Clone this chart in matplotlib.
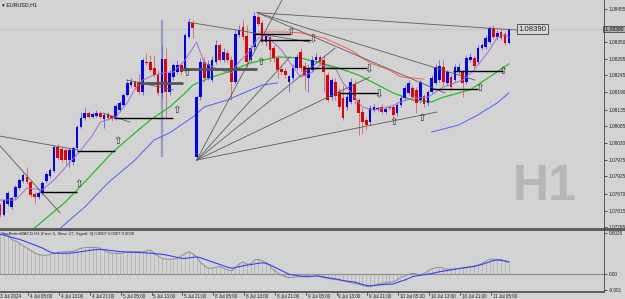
import numpy as np
import matplotlib
matplotlib.use("Agg")
import matplotlib.pyplot as plt
from matplotlib.patches import Rectangle
from matplotlib.lines import Line2D
from matplotlib.transforms import blended_transform_factory

plt.rcParams['font.family'] = ['Liberation Sans', 'DejaVu Sans']

# EURUSD H1, bar 0 = 3 Jul 2024 21:00, one bar per hour (weekend skipped)
opens = [1.07834, 1.07803, 1.07837, 1.07828, 1.07859, 1.07888, 1.07910, 1.07923, 1.07907, 1.07869,
         1.07859, 1.07872, 1.07910, 1.07926, 1.07942, 1.08017, 1.08011, 1.08008, 1.07976, 1.07970,
         1.08014, 1.08081, 1.08109, 1.08125, 1.08112, 1.08115, 1.08125, 1.08106, 1.08122, 1.08115,
         1.08106, 1.08134, 1.08150, 1.08182, 1.08213, 1.08223, 1.08220, 1.08191, 1.08286, 1.08286,
         1.08267, 1.08245, 1.08188, 1.08296, 1.08191, 1.08239, 1.08254, 1.08277, 1.08261, 1.08365,
         1.08409, 1.07986, 1.08175, 1.08286, 1.08236, 1.08229, 1.08286, 1.08340, 1.08292, 1.08315,
         1.08292, 1.08223, 1.08371, 1.08397, 1.08368, 1.08292, 1.08333, 1.08428, 1.08409, 1.08349,
         1.08365, 1.08330, 1.08299, 1.08264, 1.08258, 1.08223, 1.08236, 1.08267, 1.08318, 1.08273,
         1.08236, 1.08261, 1.08292, 1.08302, 1.08292, 1.08245, 1.08175, 1.08223, 1.08191, 1.08172,
         1.08144, 1.08160, 1.08217, 1.08166, 1.08128, 1.08103, 1.08096, 1.08134, 1.08138, 1.08144,
         1.08128, 1.08144, 1.08144, 1.08125, 1.08150, 1.08172, 1.08188, 1.08204, 1.08198, 1.08166,
         1.08179, 1.08157, 1.08191, 1.08220, 1.08229, 1.08270, 1.08220, 1.08239, 1.08229, 1.08254,
         1.08254, 1.08223, 1.08292, 1.08299, 1.08286, 1.08330, 1.08333, 1.08349, 1.08394, 1.08365,
         1.08381, 1.08375, 1.08346]
closes = [1.07803, 1.07850, 1.07872, 1.07856, 1.07891, 1.07913, 1.07929, 1.07907, 1.07866, 1.07859,
          1.07872, 1.07904, 1.07932, 1.07945, 1.08017, 1.07983, 1.07976, 1.07976, 1.08008, 1.08014,
          1.08081, 1.08109, 1.08125, 1.08112, 1.08122, 1.08125, 1.08112, 1.08119, 1.08109, 1.08106,
          1.08147, 1.08157, 1.08182, 1.08220, 1.08223, 1.08207, 1.08191, 1.08292, 1.08283, 1.08261,
          1.08245, 1.08188, 1.08296, 1.08191, 1.08251, 1.08277, 1.08277, 1.08254, 1.08371, 1.08412,
          1.08394, 1.08175, 1.08286, 1.08236, 1.08280, 1.08292, 1.08340, 1.08292, 1.08318, 1.08292,
          1.08223, 1.08375, 1.08387, 1.08365, 1.08286, 1.08330, 1.08431, 1.08406, 1.08349, 1.08368,
          1.08324, 1.08299, 1.08261, 1.08254, 1.08245, 1.08242, 1.08267, 1.08302, 1.08267, 1.08242,
          1.08267, 1.08292, 1.08302, 1.08286, 1.08254, 1.08166, 1.08229, 1.08179, 1.08144, 1.08109,
          1.08175, 1.08223, 1.08166, 1.08125, 1.08096, 1.08087, 1.08141, 1.08144, 1.08141, 1.08128,
          1.08138, 1.08141, 1.08119, 1.08150, 1.08172, 1.08204, 1.08220, 1.08175, 1.08157, 1.08223,
          1.08153, 1.08191, 1.08236, 1.08270, 1.08273, 1.08223, 1.08254, 1.08207, 1.08270, 1.08270,
          1.08220, 1.08299, 1.08302, 1.08273, 1.08330, 1.08340, 1.08362, 1.08394, 1.08365, 1.08378,
          1.08362, 1.08346, 1.08390]
highs = [1.07841, 1.07853, 1.07878, 1.07863, 1.07897, 1.07920, 1.07935, 1.07954, 1.07913, 1.07875,
         1.07878, 1.07910, 1.07938, 1.07951, 1.08024, 1.08027, 1.08021, 1.08014, 1.08014, 1.08021,
         1.08087, 1.08128, 1.08141, 1.08131, 1.08128, 1.08134, 1.08131, 1.08125, 1.08128, 1.08119,
         1.08153, 1.08163, 1.08188, 1.08232, 1.08236, 1.08229, 1.08248, 1.08299, 1.08315, 1.08308,
         1.08308, 1.08261, 1.08340, 1.08330, 1.08261, 1.08283, 1.08292, 1.08286, 1.08378, 1.08425,
         1.08419, 1.08182, 1.08299, 1.08302, 1.08292, 1.08305, 1.08356, 1.08346, 1.08330, 1.08324,
         1.08305, 1.08387, 1.08403, 1.08419, 1.08403, 1.08340, 1.08444, 1.08441, 1.08419, 1.08378,
         1.08375, 1.08340, 1.08308, 1.08273, 1.08267, 1.08245, 1.08280, 1.08311, 1.08330, 1.08286,
         1.08280, 1.08305, 1.08315, 1.08308, 1.08308, 1.08254, 1.08236, 1.08236, 1.08204, 1.08213,
         1.08188, 1.08236, 1.08229, 1.08172, 1.08141, 1.08112, 1.08150, 1.08153, 1.08147, 1.08153,
         1.08147, 1.08147, 1.08150, 1.08160, 1.08182, 1.08213, 1.08229, 1.08213, 1.08207, 1.08229,
         1.08185, 1.08198, 1.08245, 1.08280, 1.08292, 1.08292, 1.08261, 1.08248, 1.08280, 1.08283,
         1.08261, 1.08308, 1.08315, 1.08308, 1.08340, 1.08346, 1.08371, 1.08400, 1.08403, 1.08387,
         1.08390, 1.08384, 1.08394]
lows = [1.07796, 1.07799, 1.07831, 1.07822, 1.07853, 1.07882, 1.07904, 1.07901, 1.07859, 1.07841,
        1.07853, 1.07866, 1.07904, 1.07920, 1.07938, 1.07976, 1.07970, 1.07961, 1.07954, 1.07961,
        1.08008, 1.08078, 1.08103, 1.08109, 1.08109, 1.08112, 1.08109, 1.08078, 1.08103, 1.08100,
        1.08103, 1.08128, 1.08147, 1.08179, 1.08207, 1.08201, 1.08185, 1.08182, 1.08277, 1.08254,
        1.08239, 1.08182, 1.08172, 1.08109, 1.08182, 1.08229, 1.08248, 1.08245, 1.08254, 1.08362,
        1.08362, 1.07976, 1.08166, 1.08223, 1.08229, 1.08223, 1.08280, 1.08286, 1.08286, 1.08283,
        1.08166, 1.08217, 1.08365, 1.08356, 1.08270, 1.08286, 1.08324, 1.08400, 1.08343, 1.08337,
        1.08286, 1.08286, 1.08236, 1.08245, 1.08236, 1.08191, 1.08229, 1.08261, 1.08254, 1.08198,
        1.08191, 1.08254, 1.08286, 1.08277, 1.08191, 1.08160, 1.08166, 1.08166, 1.08134, 1.08103,
        1.08134, 1.08153, 1.08153, 1.08055, 1.08059, 1.08071, 1.08087, 1.08128, 1.08131, 1.08122,
        1.08122, 1.08134, 1.08109, 1.08115, 1.08144, 1.08166, 1.08182, 1.08169, 1.08125, 1.08157,
        1.08144, 1.08147, 1.08185, 1.08213, 1.08223, 1.08213, 1.08213, 1.08201, 1.08223, 1.08248,
        1.08175, 1.08217, 1.08286, 1.08267, 1.08280, 1.08324, 1.08327, 1.08343, 1.08359, 1.08356,
        1.08356, 1.08340, 1.08343]

# moving averages (bar index, price)
fast_ma_bars = [0, 4, 7, 11, 14, 18, 21, 24, 26, 30, 33, 35, 37, 40, 43, 45, 48, 51, 53, 57, 60, 62, 65,
                67, 69, 73, 76, 78, 81, 83, 87, 89, 92, 94, 97, 101, 104, 107, 111, 115, 120, 123, 127,
                129, 131, 132]
fast_ma = [1.07850, 1.07850, 1.07888, 1.07882, 1.07913, 1.07967, 1.08008, 1.08055, 1.08096, 1.08112,
           1.08157, 1.08201, 1.08229, 1.08245, 1.08254, 1.08254, 1.08292, 1.08349, 1.08283, 1.08261,
           1.08251, 1.08286, 1.08324, 1.08362, 1.08371, 1.08324, 1.08270, 1.08239, 1.08254, 1.08277,
           1.08267, 1.08220, 1.08175, 1.08144, 1.08134, 1.08144, 1.08160, 1.08172, 1.08175, 1.08207,
           1.08229, 1.08261, 1.08324, 1.08365, 1.08371, 1.08365]
mid_ma_bars = [7, 9, 17, 23, 29, 35, 39, 44, 48, 50, 55, 59, 65, 72, 78, 87, 93, 97, 102, 107, 112, 115,
               122, 127, 132]
mid_ma = [1.07739, 1.07762, 1.07844, 1.07920, 1.07999, 1.08062, 1.08103, 1.08144, 1.08188, 1.08213,
          1.08239, 1.08254, 1.08283, 1.08302, 1.08299, 1.08270, 1.08245, 1.08220, 1.08188, 1.08166,
          1.08160, 1.08175, 1.08198, 1.08239, 1.08280]
slow_ma_bars = [13, 16, 22, 28, 35, 40, 44, 50, 53, 59, 62, 68, 72, 73, 112, 119, 124, 129, 132]
slow_ma = [1.07724, 1.07765, 1.07828, 1.07904, 1.07976, 1.08040, 1.08062, 1.08112, 1.08144, 1.08166,
           1.08182, 1.08213, 1.08220, np.nan, 1.08065, 1.08087, 1.08119, 1.08157, 1.08188]
red_ma_bars = [67, 74, 78, 84, 87, 91, 96, 101, 104, 110]
red_ma = [1.08381, 1.08381, 1.08378, 1.08362, 1.08346, 1.08324, 1.08283, 1.08261, 1.08239, 1.08232]

# MACD (fast 5, slow 27, signal 9), in units of 0.0001
macd_e4 = [26.2, 25.8, 24.5, 22, 21, 19.5, 18, 16.5, 15, 13.5, 12.5,
           12, 12, 12.5, 13.2, 13.8, 14.2, 14.2, 14.2, 14.5, 15.5,
           16.4, 16.8, 17, 17, 16.8, 16.4, 15, 13.8, 13.2, 13.2,
           13.2, 13.5, 14, 14.2, 14.2, 14.2, 14.2, 14.8, 15.3, 13.5,
           11.5, 10, 9.6, 9.4, 9.6, 10, 11.5, 13, 14.2, 13,
           11, 7.5, 5.5, 3.8, 3.8, 4.5, 4.8, 3.8, 2.8, 2.1,
           4, 6.5, 7.9, 6.5, 6.5, 9, 9.4, 8.5, 7.3, 5,
           2.7, 1, -0.5, -1.5, -2.1, -2, -1.8, -1.5, -1, -0.5,
           0, -0.5, -1.5, -2.2, -2.5, -3, -3.3, -3.6, -4.2, -4.8,
           -5.3, -5.7, -6.3, -7, -7.6, -7.8, -7, -6.3, -5.7, -5.3,
           -5, -4.7, -3.5, -2, -1.1, 0, 0.6, 0.2, -0.4, 0.5,
           2, 3.3, 4.2, 4.4, 3.8, 3.2, 3.1, 3.4, 3.7, 3.8,
           4.3, 4.8, 5.4, 5.9, 6.8, 8.2, 9.4, 9.5, 9.3, 9.1,
           8.5, 7.3]
signal_e4 = [25.2, 24.7, 24, 23.3, 22.6, 22, 21.2, 20.3, 19.4, 18.4, 17.5,
             16.5, 15.3, 14, 13.3, 13.2, 13.2, 13.2, 13.3, 13.6, 13.9,
             14.2, 14.6, 15, 15.3, 15.5, 15.7, 15.5, 15.2, 14.9, 14.6,
             14.3, 14.2, 14, 13.9, 13.8, 13.7, 13.6, 13.5, 13.3, 13,
             12.8, 12.6, 12.2, 11.7, 11.2, 10.6, 10.1, 10, 10.3, 10.6,
             11, 10.4, 9.5, 8.7, 7.9, 7, 6.2, 5.3, 4.5, 3.8,
             4.2, 4.8, 5.3, 5.8, 6.1, 6.5, 6.9, 7.2, 7, 6,
             4.8, 3.6, 2.4, 1.2, 0, -0.4, -0.8, -1.2, -1.5, -1.5,
             -1.3, -1.1, -1.2, -1.7, -2.2, -2.5, -2.9, -3.4, -3.9, -4.3,
             -4.6, -4.9, -5.6, -6.3, -7, -7.2, -7.1, -6.8, -6.5, -6.3,
             -6.2, -6.1, -5.2, -4.3, -3.6, -2.6, -1.5, -1, -0.6, -0.3,
             0.1, 0.5, 1, 1.6, 2, 2.4, 2.8, 3.2, 3.6, 4,
             4.3, 4.6, 4.9, 5.5, 6.2, 7, 7.8, 8.6, 9, 8.8,
             8.3, 7.9]

# time axis labels (bar index, text)
time_ticks = [8, 16, 24, 32, 40, 48, 56, 64, 72, 80, 88, 96, 104, 112, 120, 128]
time_labels = ['4 Jul 05:00', '4 Jul 13:00', '4 Jul 21:00', '5 Jul 05:00', '5 Jul 13:00', '5 Jul 21:00',
               '8 Jul 05:00', '8 Jul 13:00', '8 Jul 21:00', '9 Jul 05:00', '9 Jul 13:00', '9 Jul 21:00',
               '10 Jul 05:00', '10 Jul 13:00', '10 Jul 21:00', '11 Jul 05:00']
price_ticks = [1.07765, 1.07815, 1.07870, 1.07925, 1.07975, 1.08030, 1.08085, 1.08135, 1.08190,
               1.08245, 1.08295, 1.08350, 1.08455]

# drawn objects: trend lines ((bar, price), (bar, price))
trend_lines = [((0, 1.08052), (20.2, 1.08008)), ((0, 1.08021), (15.6, 1.07809)),
               ((26.7, 1.08125), (33.7, 1.08096)), ((32.9, 1.08229), (44.9, 1.08198)),
               ((51, 1.07976), (75.2, 1.08529)), ((51, 1.07976), (75.2, 1.08302)),
               ((51, 1.07976), (86.9, 1.08330)), ((51, 1.07976), (96.0, 1.08239)),
               ((51, 1.07976), (113.4, 1.08128)),
               ((66.7, 1.08442), (134.1, 1.08387)), ((66.7, 1.08442), (123.2, 1.08229)),
               ((66.7, 1.08442), (115.4, 1.08188)), ((48.8, 1.08412), (80.4, 1.08349))]
# horizontal levels (price, from bar, to bar, heavy)
levels = [(1.07875, 10.4, 20.0, False), (1.08005, 20.0, 29.8, False), (1.08109, 29.8, 44.9, False),
          (1.08220, 35.5, 47.5, True), (1.08264, 46.7, 66.7, True), (1.08375, 65.6, 75.2, False),
          (1.08356, 67.4, 80.4, False), (1.08267, 78.6, 95.2, False), (1.08188, 88.2, 98.0, False),
          (1.08201, 111.5, 124.0, False), (1.08258, 117.5, 130.5, False)]
# arrow signals (bar, price, up?)
arrows = [(20.5, 1.07901, True), (30.6, 1.08036, True), (45.7, 1.08134, True), (48.5, 1.08251, True),
          (67.7, 1.08286, True), (75.5, 1.08381, True), (81.2, 1.08359, False), (95.5, 1.08264, False),
          (98.3, 1.08185, False), (102.2, 1.08096, True), (109.5, 1.08109, True), (124.3, 1.08204, True),
          (130.5, 1.08258, True)]

BG = '#d3d3d3'
W, H = 625, 299


def box(x0, y0, x1, y1):
    return [x0 / W, 1 - y1 / H, (x1 - x0) / W, (y1 - y0) / H]


fig = plt.figure(figsize=(6.25, 2.99), dpi=100)
fig.patch.set_facecolor(BG)
ax = fig.add_axes(box(0, 0, 604, 227.5))
mx = fig.add_axes(box(0, 230.5, 604, 291.5), sharex=ax)
for a in (ax, mx):
    a.set_facecolor(BG)
    for s in a.spines.values():
        s.set_visible(False)
    a.yaxis.tick_right()
    a.tick_params(axis='y', direction='out', length=2, width=0.5, colors='#202020',
                  labelsize=3.4, pad=1.5)
    a.tick_params(axis='x', bottom=False, labelbottom=False)

bars = np.arange(len(closes))
o = np.array(opens)
c = np.array(closes)
up = c >= o

# watermark
ax.text(544.5 / W, 1 - 187 / H, 'H1', transform=fig.transFigure, ha='center', va='center',
        fontsize=36, fontweight='bold', color='#b6b6b6', zorder=0)

# bid line
ax.axhline(closes[-1], color='#c4c4c4', lw=0.8, zorder=1)

# vertical line object
ax.vlines(41.9, 1.07986, 1.08419, color='#9a9ac0', lw=1.6, zorder=2)

# moving averages
ax.plot(slow_ma_bars, slow_ma, color='#5a5aff', lw=0.7, zorder=3)
ax.plot(mid_ma_bars, mid_ma, color='#22c022', lw=0.9, zorder=3)
ax.plot(red_ma_bars, red_ma, color='#ff5a5a', lw=0.7, zorder=3)
ax.plot(fast_ma_bars, fast_ma, color='#9c70d0', lw=0.7, zorder=5)

# candles
wick_col = np.where(up, '#6464d2', '#d26464')
body_col = np.where(up, '#0000ff', '#e80000')
ax.vlines(bars, lows, highs, colors=wick_col, lw=0.6, zorder=4)
heights = np.maximum(np.abs(c - o), 0.00002)
ax.bar(bars, heights, bottom=np.minimum(o, c), width=0.7, color=body_col, lw=0, zorder=4)

# trend lines and levels
for (x0, y0), (x1, y1) in trend_lines:
    ax.plot([x0, x1], [y0, y1], color='#5c5c5c', lw=0.6, zorder=6)
for price, x0, x1, heavy in levels:
    ax.plot([x0, x1], [price, price], color='#555555' if heavy else '#000000',
            lw=2.0 if heavy else 1.0, zorder=6, solid_capstyle='butt')
for x, y, is_up in arrows:
    ax.text(x, y, '\u21e7' if is_up else '\u21e9', ha='center', va='center', fontsize=7.5,
            color='#303030', family='DejaVu Sans', zorder=7)

# price label object
ax.text(138.1, 1.08390, '1.08390', ha='center', va='center', fontsize=5.6, color='#202020', zorder=8,
        bbox=dict(boxstyle='square,pad=0.2', fc='#d8d8d8', ec='#404040', lw=0.6))

ax.text(0.004, 0.99, '\u25be EURUSD,H1', transform=ax.transAxes, ha='left', va='top',
        fontsize=3.9, color='#101010')

ax.set_xlim(0, 604 / 3.855)
ax.set_ylim(1.08482 - 0.0000316 * 227.5, 1.08482)
ax.set_yticks(price_ticks)
ax.set_yticklabels(['%.5f' % p for p in price_ticks])
ax.text(1.0, closes[-1], ' 1.08390 ', transform=blended_transform_factory(ax.transAxes, ax.transData),
        ha='left', va='center', fontsize=3.6, color='#000000', zorder=9,
        bbox=dict(boxstyle='square,pad=0.15', fc='#b0b0b0', ec='#303030', lw=0.5), clip_on=False)

# MACD panel
macd = np.array(macd_e4) * 1e-4
signal = np.array(signal_e4) * 1e-4
mx.axhline(0, color='#8a8a8a', lw=0.8, zorder=1)
mx.vlines(bars, 0, macd, colors='#ababab', lw=0.5, zorder=2)
mx.plot(bars, macd, color='#8e8e8e', lw=0.7, zorder=3)
mx.plot(bars, signal, color='#3c3cff', lw=0.8, zorder=4)
mx.set_ylim((274.3 - 291.5) / 15885, (274.3 - 230.5) / 15885)
mx.set_yticks([0.0026, 0.0, -0.001])
mx.set_yticklabels(['0.0026', '0.00', '-0.001'])
mx.text(0.004, 0.97, '#ssBetterMACD-H1 (Fast: 5, Slow: 27, Signal: 9) 0.0007 0.0007 0.0008',
        transform=mx.transAxes, ha='left', va='top', fontsize=3.1, color='#202020')

# time labels below the MACD panel
tr = blended_transform_factory(mx.transData, fig.transFigure)
mx.text(0, 1 - 296 / H, '3 Jul 2024', transform=tr, ha='left', va='center', fontsize=3.3,
        color='#202020', clip_on=False)
for t, lab in zip(time_ticks, time_labels):
    xt = t - 0.7
    mx.add_line(Line2D([xt, xt], [1 - 291.5 / H, 1 - 294.5 / H], transform=tr, color='#303030',
                       lw=0.5, clip_on=False))
    mx.text(xt + 0.5, 1 - 296 / H, lab, transform=tr, ha='left', va='center', fontsize=3.3,
            color='#202020', clip_on=False)

# frame: separator, right scale line, bottom line
fig.add_artist(Rectangle((0, 1 - 230.5 / H), 1, 3 / H, transform=fig.transFigure,
                         color='#5e5e5e', lw=0))
fig.add_artist(Line2D([604 / W, 604 / W], [1 - 291.5 / H, 1], transform=fig.transFigure,
                      color='#404040', lw=0.6))
fig.add_artist(Line2D([0, 604 / W], [1 - 291.8 / H, 1 - 291.8 / H], transform=fig.transFigure,
                      color='#4a4a4a', lw=1.2))

fig.savefig('out.png', dpi=100, facecolor=BG)
